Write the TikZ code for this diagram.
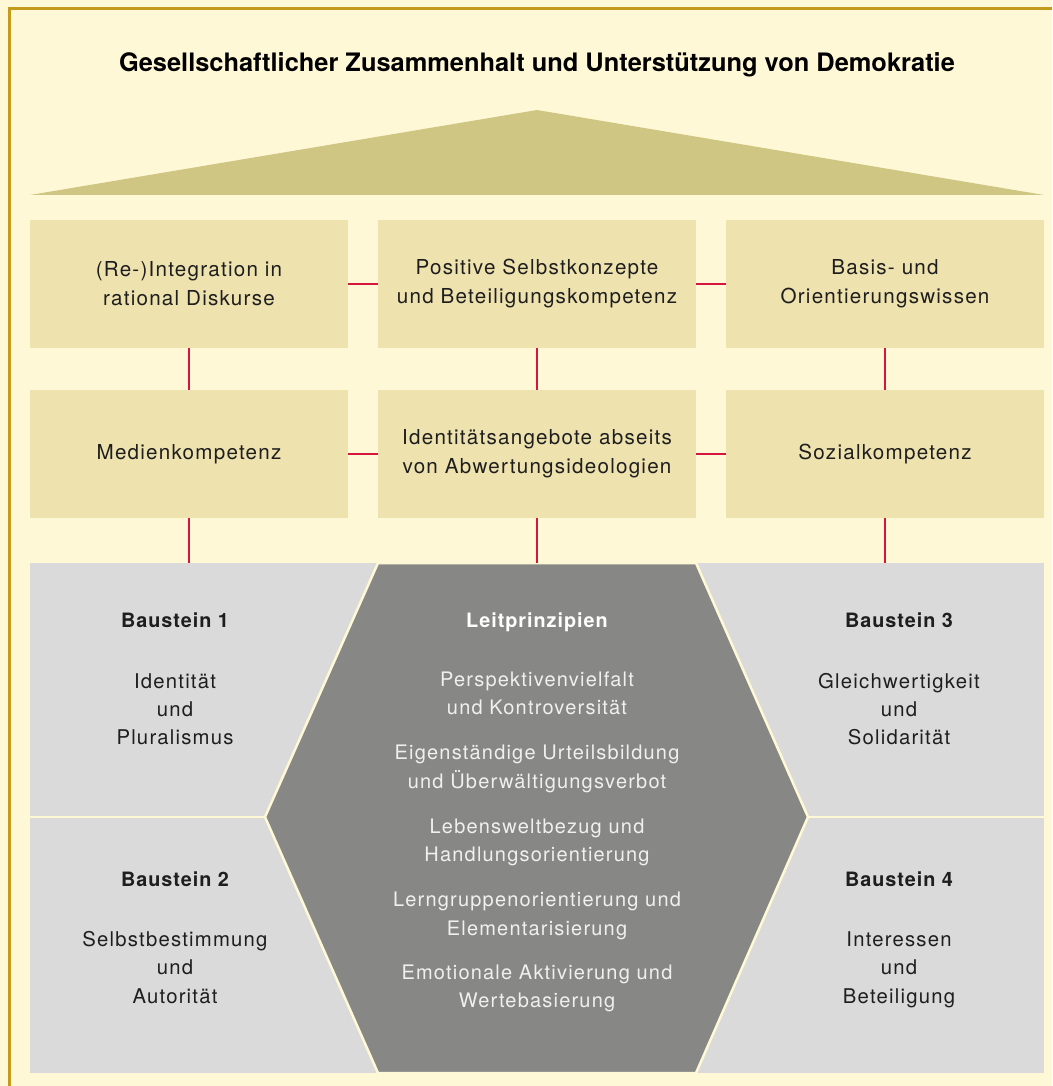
\documentclass[tikz,border=0pt]{standalone}
\usepackage{fontspec}
\setmainfont{TeX Gyre Heros}
\newfontfamily\spacedf{TeX Gyre Heros}[LetterSpace=6]
\newfontfamily\boldsp{TeX Gyre Heros}[LetterSpace=5]
\definecolor{bgc}{HTML}{FFF8D6}
\definecolor{borderc}{HTML}{C49A1C}
\definecolor{roofc}{HTML}{D0C683}
\definecolor{boxc}{HTML}{EEE2AF}
\definecolor{linkc}{HTML}{D5163F}
\definecolor{greyc}{HTML}{DADADA}
\definecolor{hexc}{HTML}{878786}
\definecolor{txtc}{HTML}{1E1E1E}
\definecolor{hextxt}{HTML}{F0F0F0}
\tikzset{
  box/.style={fill=boxc, minimum width=318pt, minimum height=128pt, inner sep=0pt, align=center, text=txtc, font=\spacedf\fontsize{20.6}{29}\selectfont},
  link/.style={draw=linkc, line width=2.5pt},
  ptxt/.style={anchor=base, inner sep=0pt, text=txtc, font=\spacedf\fontsize{20.3}{29}\selectfont},
  phead/.style={anchor=base, inner sep=0pt, text=txtc, font=\boldsp\bfseries\fontsize{19.8}{29}\selectfont},
  htxt/.style={anchor=base, inner sep=0pt, text=hextxt, font=\spacedf\fontsize{20}{29}\selectfont},
  hhead/.style={anchor=base, inner sep=0pt, text=white, font=\boldsp\bfseries\fontsize{19.8}{29}\selectfont},
}
\begin{document}
\begin{tikzpicture}[x=1pt,y=-1pt]
\useasboundingbox (0,0) rectangle (1052,1086);
\fill[bgc] (0,0) rectangle (1052,1086);
\draw[borderc, line width=3pt] (9,1086) -- (9,9) -- (1052,9);
% title
\node[anchor=base, inner sep=0pt, text=black, font=\bfseries\fontsize{25.4}{30}\selectfont] (title) at (537,72) {Gesellschaftlicher Zusammenhalt und Unterst\"utzung von Demokratie};
% roof
\fill[roofc] (30,195) -- (537,110) -- (1044,195) -- cycle;
% boxes
\node[box] (a1) at (189,284) {(Re-)Integration in\\rational Diskurse};
\node[box] (a2) at (537,284) {Positive Selbstkonzepte\\und Beteiligungskompetenz};
\node[box] (a3) at (885,284) {Basis- und\\Orientierungswissen};
\node[box] (b1) at (189,454) {Medienkompetenz};
\node[box] (b2) at (537,454) {Identit\"atsangebote abseits\\von Abwertungsideologien};
\node[box] (b3) at (885,454) {Sozialkompetenz};
% bottom panels
\fill[greyc] (30,563) rectangle (1044,1073);
\draw[bgc, line width=2.5pt] (30,817) -- (1044,817);
\filldraw[fill=hexc, draw=bgc, line width=2.5pt] (378,563) -- (696,563) -- (808,817) -- (696,1073) -- (378,1073) -- (265,817) -- cycle;
\coordinate (c1) at (189,563);
\coordinate (c2) at (537,563);
\coordinate (c3) at (885,563);
% connectors
\draw[link] (a1.east) -- (a2.west);
\draw[link] (a2.east) -- (a3.west);
\draw[link] (b1.east) -- (b2.west);
\draw[link] (b2.east) -- (b3.west);
\draw[link] (a1.south) -- (b1.north);
\draw[link] (a2.south) -- (b2.north);
\draw[link] (a3.south) -- (b3.north);
\draw[link] (b1.south) -- (c1);
\draw[link] (b2.south) -- (c2);
\draw[link] (b3.south) -- (c3);
% Baustein texts
\node[phead] (s1h) at (175,627) {Baustein 1};
\node[ptxt] (s1a) at (175,688) {Identit\"at};
\node[ptxt] (s1b) at (175,716) {und};
\node[ptxt] (s1c) at (175,744) {Pluralismus};
\node[phead] (s2h) at (175,886) {Baustein 2};
\node[ptxt] (s2a) at (175,946) {Selbstbestimmung};
\node[ptxt] (s2b) at (175,974) {und};
\node[ptxt] (s2c) at (175,1003) {Autorit\"at};
\node[phead] (s3h) at (899,627) {Baustein 3};
\node[ptxt] (s3a) at (899,688) {Gleichwertigkeit};
\node[ptxt] (s3b) at (899,716) {und};
\node[ptxt] (s3c) at (899,744) {Solidarit\"at};
\node[phead] (s4h) at (899,886) {Baustein 4};
\node[ptxt] (s4a) at (899,946) {Interessen};
\node[ptxt] (s4b) at (899,974) {und};
\node[ptxt] (s4c) at (899,1003) {Beteiligung};
% Leitprinzipien
\node[hhead] (lh) at (537,627) {Leitprinzipien};
\node[htxt] (l1) at (537,686) {Perspektivenvielfalt};
\node[htxt] (l2) at (537,714) {und Kontroversit\"at};
\node[htxt] (l3) at (537,759) {Eigenst\"andige Urteilsbildung};
\node[htxt] (l4) at (537,788) {und \"Uberw\"altigungsverbot};
\node[htxt] (l5) at (537,833) {Lebensweltbezug und};
\node[htxt] (l6) at (537,861) {Handlungsorientierung};
\node[htxt] (l7) at (537,906) {Lerngruppenorientierung und};
\node[htxt] (l8) at (537,935) {Elementarisierung};
\node[htxt] (l9) at (537,979) {Emotionale Aktivierung und};
\node[htxt] (l10) at (537,1007) {Wertebasierung};
\end{tikzpicture}
\end{document}
